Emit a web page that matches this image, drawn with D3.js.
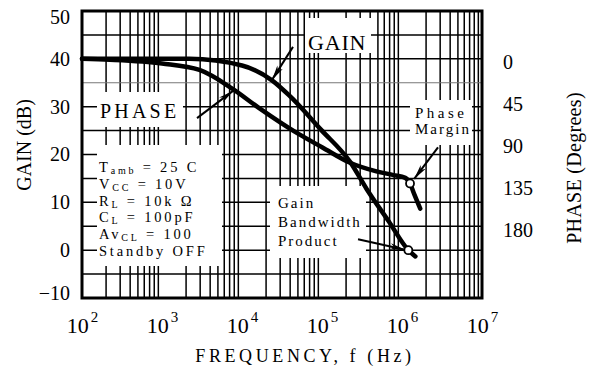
<!DOCTYPE html>
<html><head><meta charset="utf-8">
<script src="https://cdn.jsdelivr.net/npm/d3@7"></script>
<style>
body{margin:0;background:#fff}
svg{display:block}
text{font-family:"Liberation Serif","Times New Roman",serif;fill:#000}
</style>
</head><body>
<svg id="c" width="590" height="371"></svg>
<script>
// Frequency axis decades, gain and phase tick values
const freqTicks = [1e2, 1e3, 1e4, 1e5, 1e6, 1e7];
const gainTicks = [-10, 0, 10, 20, 30, 40, 50];
const phaseTicks = [0, 45, 90, 135, 180];

// Open-loop gain (dB) vs frequency (Hz)
const gainFreq = [100, 2200, 10000, 23700, 38600, 97000, 228000, 361000, 678000, 1200000, 1470000];
const gainDb   = [40, 40, 38.6, 35.5, 32.4, 25.2, 18.3, 12.8, 6.1, 0, -1.3];

// Phase lag (degrees) vs frequency (Hz)
const phaseFreq = [100, 223, 1000, 2940, 7550, 16400, 51400, 100000, 228000, 479000, 782000, 1100000, 1260000, 1430000, 1690000];
const phaseDeg  = [0, 1, 5, 12, 32, 53, 81, 95, 112, 121, 125, 128, 134, 146, 161];

// Highlighted points: unity-gain crossing and phase-margin point
const gbwPoint = [1200000, 0];        // [Hz, dB]
const pmPoint  = [1260000, 134];      // [Hz, degrees]

// Test conditions
const conditions = [
  [["T", ""], ["amb", "sub"], [" = 25  C", ""]],
  [["V", ""], ["CC", "sub"], ["  = 10V", ""]],
  [["R", ""], ["L", "sub"], [" = 10k Ω", ""]],
  [["C", ""], ["L", "sub"], [" = 100pF", ""]],
  [["Av", ""], ["CL", "sub"], ["  = 100", ""]],
  [["Standby OFF", ""]]
];

const svg = d3.select("#c");
const L = 82, R = 482, T = 11, B = 298;

const x = d3.scaleLog().domain([1e2, 1e7]).range([L, R]);
const y = d3.scaleLinear().domain([-10, 50]).range([B, T]);
// phase axis: 0° sits on 40 dB, 180° on 5 dB
const yp = d3.scaleLinear().domain([0, 180]).range([y(40), y(5)]);

// ---- grid ----
const grid = svg.append("g").attr("stroke", "#000");
const vLines = [];
for (let d = 2; d < 7; d++) for (let k = 2; k <= 9; k++) vLines.push(k * Math.pow(10, d));
grid.selectAll("line.v").data(vLines).join("line")
  .attr("x1", d => x(d)).attr("x2", d => x(d))
  .attr("y1", T).attr("y2", B).attr("stroke-width", 1.5);
const hLines = d3.range(-5, 50, 5);
grid.selectAll("line.h").data(hLines).join("line")
  .attr("x1", L).attr("x2", R)
  .attr("y1", d => y(d)).attr("y2", d => y(d))
  .attr("stroke-width", d => d === 35 ? 1.2 : 1.5)
  .attr("stroke", d => d === 35 ? "#777" : "#000");

// ---- white label panels over the grid ----
const panels = [
  [305, 18, 66, 35],    // GAIN
  [97, 92, 86, 35],     // PHASE
  [97, 145, 125, 121],  // conditions
  [270, 186, 96, 72],   // gain bandwidth product
  [410, 100, 62, 45]    // phase margin
];
svg.append("g").selectAll("rect").data(panels).join("rect")
  .attr("x", d => d[0]).attr("y", d => d[1]).attr("width", d => d[2]).attr("height", d => d[3])
  .attr("fill", "#fff");

// ---- frame ----
svg.append("rect").attr("x", L).attr("y", T).attr("width", R - L).attr("height", B - T)
  .attr("fill", "none").attr("stroke", "#000").attr("stroke-width", 3);

// ---- curves ----
const line = d3.line().curve(d3.curveMonotoneX);
svg.append("path")
  .attr("d", line(gainFreq.map((f, i) => [x(f), y(gainDb[i])])))
  .attr("fill", "none").attr("stroke", "#000").attr("stroke-width", 4.5).attr("stroke-linecap", "round");
svg.append("path")
  .attr("d", line(phaseFreq.map((f, i) => [x(f), yp(phaseDeg[i])])))
  .attr("fill", "none").attr("stroke", "#000").attr("stroke-width", 4.5).attr("stroke-linecap", "round");

// ---- annotation arrows (endpoints in Hz / dB) ----
svg.append("defs").append("marker")
  .attr("id", "ah").attr("viewBox", "-16 -4 18 8").attr("refX", 0).attr("refY", 0)
  .attr("markerUnits", "userSpaceOnUse").attr("markerWidth", 18).attr("markerHeight", 8)
  .attr("orient", "auto")
  .append("path").attr("d", "M0,0 L-15,-3.2 L-11,0 L-15,3.2 Z").attr("fill", "#000");

const arrows = [
  {from: [43400, 42.5], to: [23700, 35.6]},
  {from: [2740, 27.6], to: [7720, 33.3]},
  {from: [2820000, 21.5], to: [1420000, 14.9]},
  {from: [282000, 2.3], to: [1090000, 0.1]}
];
svg.append("g").selectAll("line").data(arrows).join("line")
  .attr("x1", d => x(d.from[0])).attr("y1", d => y(d.from[1]))
  .attr("x2", d => x(d.to[0])).attr("y2", d => y(d.to[1]))
  .attr("stroke", "#000").attr("stroke-width", 2).attr("marker-end", "url(#ah)");

// ---- marker circles ----
svg.append("circle").attr("cx", x(gbwPoint[0])).attr("cy", y(gbwPoint[1])).attr("r", 4)
  .attr("fill", "#fff").attr("stroke", "#000").attr("stroke-width", 1.8);
svg.append("circle").attr("cx", x(pmPoint[0])).attr("cy", yp(pmPoint[1])).attr("r", 4)
  .attr("fill", "#fff").attr("stroke", "#000").attr("stroke-width", 1.8);

// ---- axes ----
const ax = svg.append("g").attr("transform", `translate(0,${B})`)
  .call(d3.axisBottom(x).tickValues(freqTicks).tickSize(0).tickFormat(""));
ax.select(".domain").remove();
ax.selectAll(".tick text").each(function(d) {
  const t = d3.select(this).attr("y", 35).attr("dy", 0)
    .attr("font-size", 22).attr("text-anchor", "middle").attr("fill", "#000");
  t.append("tspan").text("10");
  t.append("tspan").attr("dy", -11).attr("font-size", 15).attr("dx", 2).text(Math.round(Math.log10(d)));
});

const ay = svg.append("g").attr("transform", `translate(${L},0)`)
  .call(d3.axisLeft(y).tickValues(gainTicks).tickSize(0).tickPadding(12));
ay.select(".domain").remove();
ay.selectAll(".tick text").attr("font-size", 20).attr("fill", "#000")
  .attr("dy", d => d === 50 ? "0.6em" : d === -10 ? "0.05em" : "0.32em");

const ap = svg.append("g").attr("transform", `translate(${R},0)`)
  .call(d3.axisRight(yp).tickValues(phaseTicks).tickSize(0).tickPadding(21));
ap.select(".domain").remove();
ap.selectAll(".tick text").attr("font-size", 20).attr("fill", "#000").attr("dy", "0.5em");

// axis titles
svg.append("text").attr("x", 305).attr("y", 362).attr("text-anchor", "middle")
  .attr("font-size", 18).attr("letter-spacing", 3.6).text("FREQUENCY, f (Hz)");
svg.append("text").attr("transform", "translate(31,145) rotate(-90)").attr("text-anchor", "middle")
  .attr("font-size", 20).text("GAIN (dB)");
svg.append("text").attr("transform", "translate(581,168) rotate(-90)").attr("text-anchor", "middle")
  .attr("font-size", 20).attr("letter-spacing", 0.3).text("PHASE  (Degrees)");

// curve labels
svg.append("text").attr("x", 308).attr("y", 50).attr("font-size", 22).attr("letter-spacing", 0.8).text("GAIN");
svg.append("text").attr("x", 100).attr("y", 118).attr("font-size", 20).attr("letter-spacing", 3.2).text("PHASE");

// conditions block
const condY = [172, 189, 206, 222, 239, 256];
conditions.forEach((parts, i) => {
  const t = svg.append("text").attr("x", 99).attr("y", condY[i]).attr("font-size", 14.5).attr("letter-spacing", 2.8);
  parts.forEach(([s, kind], j) => {
    if (kind === "sub") t.append("tspan").attr("font-size", 10).attr("dy", 2).text(s);
    else {
      const ts = t.append("tspan").text(s);
      if (j > 0) ts.attr("dy", -2);
    }
  });
});

// annotation labels
[["Gain", 208], ["Bandwidth", 227], ["Product", 246]].forEach(([s, yy]) =>
  svg.append("text").attr("x", 278).attr("y", yy).attr("font-size", 15).attr("letter-spacing", 2).text(s));
svg.append("text").attr("x", 415).attr("y", 118).attr("font-size", 15).attr("letter-spacing", 3.5).text("Phase");
svg.append("text").attr("x", 415).attr("y", 134).attr("font-size", 15).attr("letter-spacing", 2).text("Margin");
</script>
</body></html>
